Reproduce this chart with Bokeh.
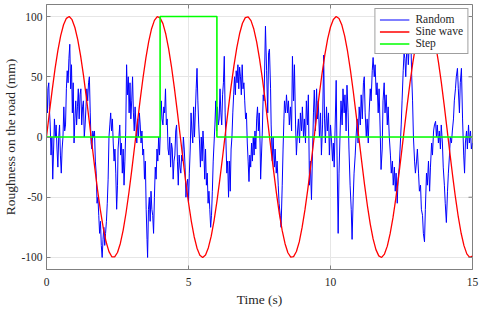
from bokeh.plotting import figure
from bokeh.models import FixedTicker
from bokeh.embed import file_html
from bokeh.resources import INLINE
import numpy as np

# ---------------- data ----------------
x_ticks = [0, 5, 10, 15]
y_ticks = [-100, -50, 0, 50, 100]
y_tick_labels = ["-100", "-50", "0", "50", "100"]
x_tick_labels = ["0", "5", "10", "15"]

step_t = [0, 4, 4, 6, 6, 15]
step_v = [0, 0, 100, 100, 0, 0]

# sine wave sampled every 0.1 s from 0 to 15 s
sine_v = [
    0, 19.9, 38.9, 56.5, 71.7, 84.1, 93.2, 98.5, 100.0, 97.4,
    90.9, 80.9, 67.6, 51.6, 33.5, 14.1, -5.8, -25.6, -44.3, -61.2,
    -75.7, -87.2, -95.2, -99.4, -99.6, -95.9, -88.4, -77.3, -63.1, -46.5,
    -27.9, -8.3, 11.7, 31.2, 49.4, 65.7, 79.4, 89.9, 96.8, 99.9,
    98.9, 94.1, 85.5, 73.4, 58.5, 41.2, 22.3, 2.5, -17.4, -36.7,
    -54.4, -70.0, -82.8, -92.3, -98.1, -100.0, -97.9, -91.9, -82.3, -69.4,
    -53.7, -35.8, -16.6, 3.4, 23.2, 42.0, 59.2, 74.0, 85.9, 94.4,
    99.1, 99.8, 96.6, 89.6, 79.0, 65.0, 48.7, 30.4, 10.8, -9.2,
    -28.8, -47.2, -63.8, -77.8, -88.6, -96.1, -99.7, -99.3, -95.1, -87.1,
    -75.1, -60.5, -43.5, -24.7, -5.0, 15.0, 34.3, 52.3, 68.2, 81.4,
    91.3, 97.6, 100.0, 98.4, 92.9, 83.7, 71.2, 55.7, 38.2, 19.0,
    -0.9, -20.7, -39.7, -57.1, -72.3, -84.6, -93.5, -98.7, -100.0, -97.2,
    -90.6, -80.3, -67.0, -50.9, -32.7, -13.2, 6.7, 26.4, 45.1, 61.9,
    76.3, 87.6, 95.4, 99.5, 99.5, 95.6, 88.0, 76.7, 62.4, 45.7,
    27.1, 7.4, -12.5, -32.0, -50.2, -66.4, -79.9, -90.2, -97.0, -99.9,
    -98.8,
]
sine_t = np.linspace(0, 15, len(sine_v))

rand_t = [
    0.00, 0.03, 0.05, 0.08, 0.10, 0.13, 0.16, 0.19, 0.22, 0.25,
    0.28, 0.31, 0.34, 0.37, 0.40, 0.43, 0.46, 0.49, 0.52, 0.55,
    0.58, 0.61, 0.64, 0.67, 0.70, 0.73, 0.76, 0.79, 0.82, 0.85,
    0.88, 0.91, 0.94, 0.97, 1.00, 1.03, 1.06, 1.09, 1.12, 1.15,
    1.18, 1.21, 1.24, 1.27, 1.30, 1.33, 1.36, 1.39, 1.42, 1.45,
    1.48, 1.51, 1.54, 1.57, 1.60, 1.63, 1.66, 1.69, 1.72, 1.75,
    1.78, 1.81, 1.84, 1.87, 1.90, 1.93, 1.96, 1.99, 2.02, 2.05,
    2.08, 2.11, 2.14, 2.17, 2.20, 2.23, 2.26, 2.29, 2.32, 2.35,
    2.38, 2.41, 2.44, 2.47, 2.50,
    2.52, 2.55, 2.58, 2.61, 2.64, 2.67, 2.70, 2.73, 2.76, 2.79,
    2.82, 2.85, 2.88, 2.91, 2.94, 2.97, 3.00, 3.03, 3.06, 3.09,
    3.12, 3.15, 3.18, 3.21, 3.24, 3.27, 3.30, 3.33, 3.36, 3.39,
    3.42, 3.45, 3.48, 3.51, 3.54, 3.56, 3.59, 3.62, 3.65, 3.68,
    3.71, 3.74, 3.77, 3.80, 3.83, 3.86, 3.89, 3.92, 3.95, 3.98,
    4.01, 4.04, 4.07, 4.10, 4.13, 4.16, 4.19, 4.22, 4.25, 4.28,
    4.31, 4.34, 4.37, 4.40, 4.43, 4.46, 4.49, 4.52, 4.55, 4.58,
    4.61, 4.64, 4.67, 4.70, 4.73, 4.76, 4.79, 4.82, 4.85, 4.88,
    4.91, 4.94, 4.97, 5.00, 5.03,
    5.06, 5.09, 5.12, 5.15, 5.18, 5.21, 5.24, 5.27, 5.30, 5.33,
    5.36, 5.39, 5.42, 5.45, 5.48, 5.51, 5.54, 5.57, 5.60, 5.63,
    5.66, 5.69, 5.72, 5.75, 5.78, 5.81, 5.84, 5.87, 5.90, 5.93,
    5.96, 5.99, 6.02, 6.05, 6.08, 6.11, 6.14, 6.17, 6.20, 6.23,
    6.26, 6.29, 6.32, 6.35, 6.38, 6.41, 6.44, 6.47, 6.50, 6.53,
    6.56, 6.59, 6.62, 6.65, 6.68, 6.71, 6.74, 6.77, 6.80, 6.83,
    6.86, 6.89, 6.92, 6.95, 6.98, 7.01, 7.04, 7.07, 7.10, 7.13,
    7.16, 7.19, 7.22, 7.25, 7.28, 7.31, 7.34, 7.37, 7.40, 7.43,
    7.46, 7.49, 7.52,
    7.54, 7.60, 7.63, 7.66, 7.71, 7.75, 7.79, 7.82, 7.85, 7.89,
    7.91, 7.95, 7.98, 8.02, 8.05, 8.09, 8.12, 8.16, 8.19, 8.23,
    8.26, 8.30, 8.33, 8.36, 8.38, 8.42, 8.45, 8.49, 8.52, 8.55,
    8.59, 8.63, 8.66, 8.70, 8.73, 8.77, 8.80, 8.84, 8.87, 8.91,
    8.94, 8.98, 9.01, 9.05, 9.08, 9.12, 9.15, 9.19, 9.22, 9.26,
    9.29, 9.33, 9.36, 9.40, 9.43, 9.47, 9.51, 9.54, 9.57, 9.61,
    9.65, 9.68, 9.72, 9.76, 9.79, 9.82, 9.86, 9.89, 9.93, 9.96,
    10.00, 10.04,
    10.07, 10.10, 10.13, 10.16, 10.20, 10.23, 10.27, 10.30, 10.34, 10.37,
    10.41, 10.44, 10.48, 10.51, 10.55, 10.58, 10.62, 10.65, 10.69, 10.73,
    10.76, 10.80, 10.83, 10.87, 10.90, 10.94, 10.97, 11.01, 11.05, 11.08,
    11.12, 11.16, 11.19, 11.22, 11.26, 11.29, 11.33, 11.36, 11.40, 11.43,
    11.47, 11.50, 11.54, 11.57, 11.61, 11.64, 11.68, 11.71, 11.75, 11.78,
    11.82, 11.85, 11.89, 11.92, 11.96, 12.00, 12.03, 12.07, 12.11, 12.14,
    12.18, 12.21, 12.25, 12.28, 12.31, 12.35, 12.38, 12.42, 12.45, 12.49,
    12.52, 12.56, 12.59,
    12.62, 12.65, 12.68, 12.71, 12.74, 12.77, 12.80, 12.83, 12.86, 12.89,
    12.92, 12.96, 12.99, 13.03, 13.06, 13.10, 13.13, 13.17, 13.20, 13.24,
    13.27, 13.31, 13.34, 13.38, 13.41, 13.45, 13.49, 13.52, 13.56, 13.59,
    13.63, 13.66, 13.70, 13.73, 13.76, 13.80, 13.83, 13.87, 13.90, 13.94,
    13.97, 14.01, 14.04, 14.08, 14.12, 14.15, 14.19, 14.22, 14.26, 14.29,
    14.33, 14.36, 14.40, 14.43, 14.47, 14.50, 14.54, 14.57, 14.61, 14.65,
    14.69, 14.72, 14.75, 14.79, 14.82, 14.86, 14.89, 14.93, 14.96, 15.00,
]
rand_v = [
    35, 20, 40, 45, 25, 10, -15, 0, -35, -10,
    15, 0, 10, -10, -25, 0, 10, -15, -30, -10,
    0, 25, 5, 10, 40, 55, 45, 65, 77, 40,
    60, 20, 45, -5, 15, 30, 10, 25, 40, 15,
    35, 40, 10, 25, 30, 0, 10, 25, 40, 30,
    45, 50, 20, -5, -10, 5, 0, 5, -20, -30,
    -55, -50, -65, -80, -70, -90, -100, -85, -75, -90,
    -80, -70, -55, -35, 0, 10, 20, 5, 15, -5,
    -20, -10, -30, -60, -40,
    -10, 0, 10, -15, -5, -30, -10, -40, -20, 5,
    60, 35, 50, 20, 45, 15, 30, 50, 20, 5,
    25, 10, -5, 15, 0, 20, 10, -5, 5, -15,
    -10, -35, -20, -60, -85, -100, -60, -50, -70, -45,
    -60, -65, -80, -50, -25, -35, -10, -20, 0, -15,
    5, 30, 15, 10, 25, 20, 40, 10, 15, -10,
    -15, 0, -25, -5, -10, -35, -20, -15, 5, 10,
    -20, -40, -15, -25, -30, -15, -20, 0, -10, -25,
    -50, -40, -35, -55, -30,
    -10, 20, 5, -5, 25, 0, 20, 40, 57, 30,
    10, -5, -25, 0, -20, 5, -10, -35, -10, -40,
    -30, -55, -45, -60, -75, -65, -45, -20, -5, 10,
    30, 5, 25, 10, 15, 40, 20, 10, 35, 45,
    67, 20, -5, -30, -20, -50, -20, -45, -10, 0,
    20, 35, 50, 35, 55, 45, 60, 40, 58, 50,
    35, 60, 40, 45, 30, 15, 20, -5, -20, -37,
    -15, -25, -5, -20, 0, -15, 5, -10, 15, 25,
    5, 20, -5,
    -35, 5, 35, 30, 92, 55, 20, 70, 73, 40,
    10, -20, 0, -25, -10, -30, -20, -40, -55, -65,
    -75, -40, -10, 15, 30, 20, 35, 20, 30, 10,
    25, 5, 67, 30, 60, 10, -15, 5, 15, -5,
    20, 5, 25, 0, 15, -5, 30, 10, 35, -40,
    -20, -52, -20, 20, 39, 5, 40, 15, 30, 0,
    20, -15, 10, 68, 15, -5, 25, 5, 20, -15,
    10, -5,
    -20, -5, -25, 5, 47, -15, -80, -30, 5, 30,
    10, 40, 20, 35, 5, 43, 20, -10, -40, -60,
    -85, -50, -30, -15, 0, 15, -5, 25, 10, 35,
    15, 45, 50, 20, 0, 15, -5, 20, 40, 30,
    55, 66, 50, 60, 35, 45, 20, 40, 5, -27,
    -10, 30, 45, 20, 35, 10, 25, 0, -15, -30,
    -20, -40, -25, -45, -30, -55, -35, -25, -10, 10,
    30, 55, 70,
    65, 50, 70, 80, 60, 75, 85, 80, 50, 30,
    0, -20, -30, -20, -10, -30, -45, -40, -60, -65,
    -80, -87, -60, -30, -40, -20, -45, -25, -5, -15,
    5, 10, 13, 0, 10, -5, 5, -10, 10, -5,
    -25, -40, -55, -71, -45, -30, -15, 0, -5, 5,
    15, 30, 40, 50, 57, 40, 20, 45, 57, 15,
    -15, -30, -5, 5, -10, 10, -5, 5, -10, -5,
]
assert len(rand_t) == len(rand_v), (len(rand_t), len(rand_v))

# ---------------- figure ----------------
FONT = "Liberation Serif"
AX_COL = "#808080"
TXT_COL = "#262626"
X_RANGE = (0, 15)
Y_RANGE = (-110, 110)

p = figure(width=480, height=309, x_range=X_RANGE, y_range=Y_RANGE,
           output_backend="svg", toolbar_location=None,
           min_border_top=4, min_border_right=8, min_border_left=46,
           min_border_bottom=38, background_fill_color="white",
           border_fill_color="white")
p.outline_line_color = AX_COL

p.xgrid.ticker = FixedTicker(ticks=x_ticks)
p.ygrid.ticker = FixedTicker(ticks=y_ticks)
p.xgrid.grid_line_color = "#e6e6e6"
p.ygrid.grid_line_color = "#e6e6e6"

p.line(rand_t, rand_v, line_color="#0000ff", line_width=1, legend_label="Random")
p.line(sine_t, sine_v, line_color="#ff0000", line_width=1.3, legend_label="Sine wave")
p.line(step_t, step_v, line_color="#00ff00", line_width=1.6, legend_label="Step")

# inward box ticks on the top and right edges (clipped to the frame)
p.scatter(x_ticks, [Y_RANGE[1]] * len(x_ticks), marker="dash", size=8,
          angle=np.pi / 2, line_color=AX_COL, line_width=1)
p.scatter([X_RANGE[1]] * len(y_ticks), y_ticks, marker="dash", size=8,
          line_color=AX_COL, line_width=1)

p.xaxis.ticker = FixedTicker(ticks=x_ticks)
p.yaxis.ticker = FixedTicker(ticks=y_ticks)
p.xaxis.major_label_overrides = dict(zip(x_ticks, x_tick_labels))
p.yaxis.major_label_overrides = dict(zip(y_ticks, y_tick_labels))
p.xaxis.axis_label = "Time (s)"
p.yaxis.axis_label = "Roughness on the road (mm)"

for ax in (p.xaxis[0], p.yaxis[0]):
    ax.axis_line_color = AX_COL
    ax.major_tick_line_color = AX_COL
    ax.major_tick_in = 4
    ax.major_tick_out = 0
    ax.minor_tick_line_color = None
    ax.major_label_text_font = FONT
    ax.major_label_text_font_size = "11.5px"
    ax.major_label_text_color = TXT_COL
    ax.axis_label_text_font = FONT
    ax.axis_label_text_font_size = "13.5px"
    ax.axis_label_text_font_style = "normal"
    ax.axis_label_text_color = TXT_COL
p.xaxis.major_label_standoff = 8
p.xaxis.axis_label_standoff = 3
p.yaxis.major_label_standoff = 4
p.yaxis.axis_label_standoff = 0

lg = p.legend[0]
lg.location = "top_right"
lg.label_text_font = FONT
lg.label_text_font_size = "11.5px"
lg.label_text_color = TXT_COL
lg.border_line_color = "#404040"
lg.border_line_width = 1
lg.background_fill_color = "white"
lg.background_fill_alpha = 1
lg.glyph_width = 30
lg.glyph_height = 11
lg.label_height = 11
lg.label_standoff = 6
lg.spacing = 0
lg.padding = 4
lg.margin = 4

open("out.html", "w").write(file_html(p, INLINE))
